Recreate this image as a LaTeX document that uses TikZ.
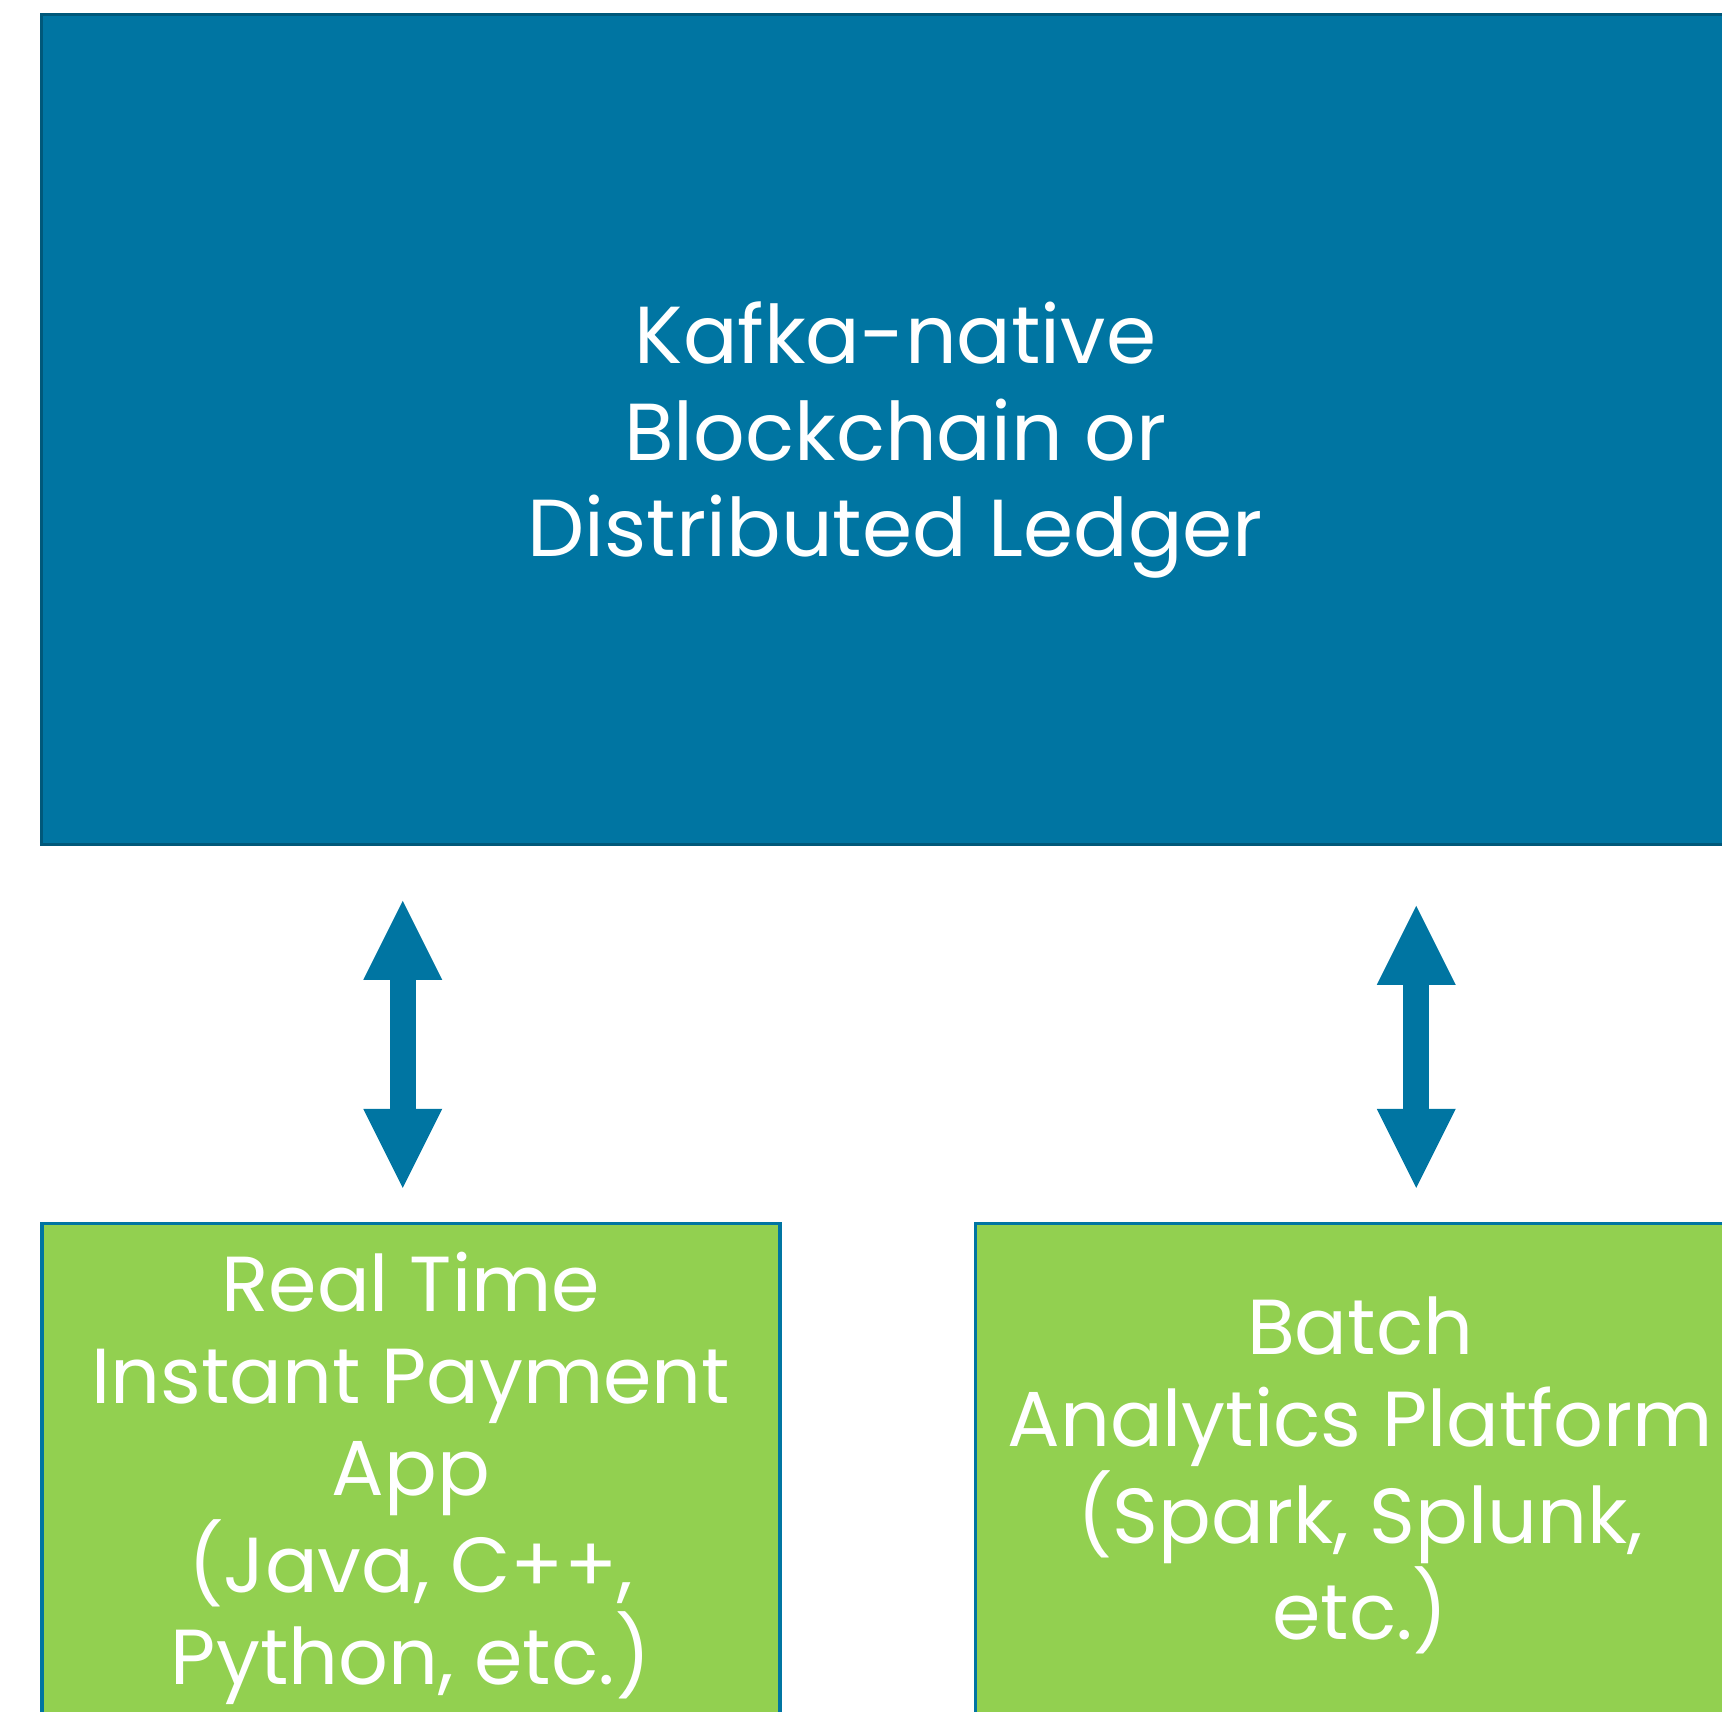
\documentclass[tikz,border=0pt]{standalone}
\usepackage{fontspec}
\setmainfont{Poppins}
\usetikzlibrary{arrows.meta, positioning}
\definecolor{ledgerblue}{RGB}{0,117,162}
\definecolor{ledgeredge}{RGB}{0,88,122}
\definecolor{appgreen}{RGB}{146,208,80}

\begin{document}
\begin{tikzpicture}[
        font=\fontsize{23}{27.5}\selectfont, node distance=1.92cm,
        ledgerbox/.style={draw=ledgeredge, line width=0.8pt, fill=ledgerblue, text=white, text depth=0pt, minimum width=17.08cm, minimum height=8.30cm, align=center},
        appbox/.style={draw=ledgerblue, line width=1pt, fill=appgreen, text=white, text depth=3.5pt, minimum height=5.02cm, align=center, font=\fontsize{22.2}{26.2}\selectfont},
        link/.style={{Triangle[width=0.79cm, length=0.79cm, line width=0pt]}-{Triangle[width=0.79cm, length=0.79cm, line width=0pt]}, line width=0.26cm, ledgerblue}
    ]
        \clip (0,0) rectangle (17.22,-17.12);

        \node[ledgerbox, anchor=north west] (ledger) at (0.40,-0.13) {Kafka-native\\Blockchain or\\Distributed Ledger};
        \node[appbox, minimum width=7.38cm, below=3.76cm of ledger.south west, anchor=north west] (app) {Real Time\\Instant Payment\\App\\(Java, C++,\\Python, etc.)};
        \node[appbox, minimum width=7.70cm, right=of app] (batch) {Batch\\Analytics Platform\\(Spark, Splunk,\\etc.)};

        % two-way links
        \path ([xshift=-0.08cm]app.north) coordinate (appin) ([xshift=0.56cm]batch.north) coordinate (batchin);
        \draw[link, shorten <=0.55cm, shorten >=0.34cm] (ledger.south -| appin) -- (appin);
        \draw[link, shorten <=0.60cm, shorten >=0.34cm] (ledger.south -| batchin) -- (batchin);
    \end{tikzpicture}
\end{document}
